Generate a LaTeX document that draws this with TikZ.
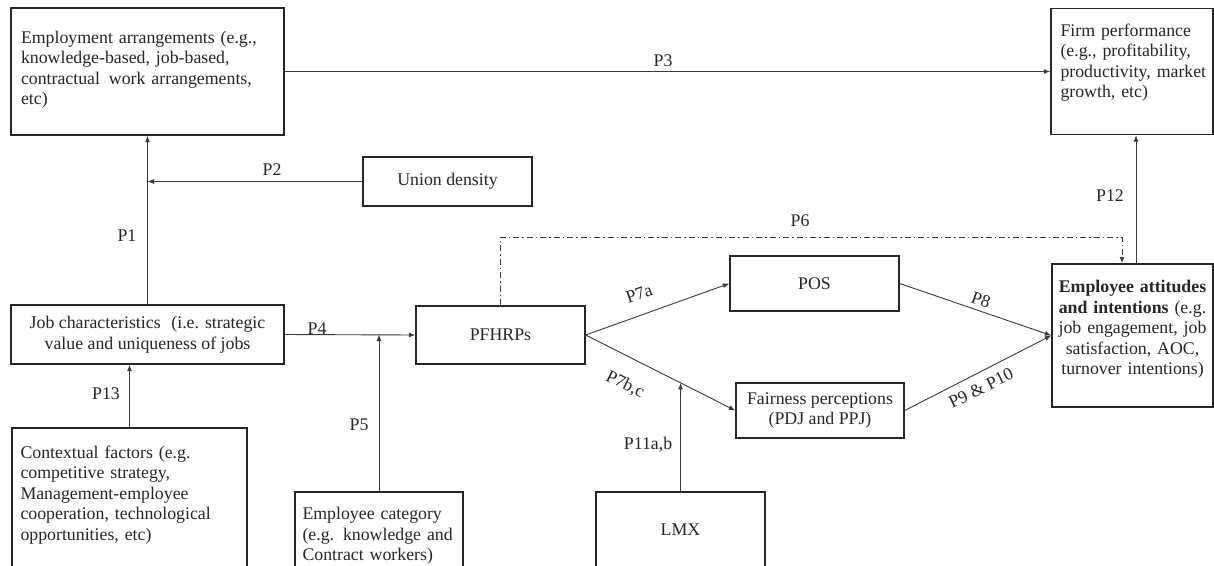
\documentclass[tikz,border=0pt]{standalone}
\usepackage{fontspec}
\setmainfont{Liberation Serif}
\usetikzlibrary{arrows.meta,calc}
\definecolor{ink}{RGB}{38,38,38}
\definecolor{wire}{RGB}{58,58,58}
\begin{document}
\begin{tikzpicture}[x=1pt,y=-1pt,
  txt/.style={font=\fontsize{17.8}{20.5}\selectfont, text=ink, inner sep=0pt},
  box/.style={draw=ink, line width=1.4pt, rectangle, inner sep=0pt, txt},
  link/.style={draw=wire, line width=0.9pt, -{Latex[length=6.5pt,width=5pt]}},
  dashlink/.style={link, dash pattern=on 6pt off 3pt on 1.5pt off 3pt},
  tag/.style={txt}]
\clip (0,0) rectangle (1214,565);
\fill[white] (0,0) rectangle (1214,565);

% boxes
\node[box, minimum width=273pt, minimum height=127pt] (emp) at (147.5,71.5) {};
\node[box, minimum width=162pt, minimum height=126pt] (firm) at (1132,71.5) {};
\node[box, minimum width=169pt, minimum height=49pt] (union) at (447.5,181.5) {Union density};
\node[box, minimum width=273pt, minimum height=59pt, align=center] (job) at (147.5,334.5)
  {Job characteristics\hspace{0.6em}(i.e. strategic\\value and uniqueness of jobs};
\node[box, minimum width=235pt, minimum height=150pt] (ctx) at (129.5,503) {};
\node[box, minimum width=168pt, minimum height=90pt] (cat) at (379,537) {};
\node[box, minimum width=169pt, minimum height=76pt] (lmx) at (680.5,530) {LMX};
\node[box, minimum width=169pt, minimum height=58pt] (pf) at (500.5,335) {PFHRPs};
\node[box, minimum width=169pt, minimum height=55pt] (pos) at (814.5,283.5) {POS};
\node[box, minimum width=168pt, minimum height=55pt, align=center] (fair) at (820,410.5)
  {Fairness perceptions\\(PDJ and PPJ)};
\node[box, minimum width=161pt, minimum height=143pt] (att) at (1132.5,335.5) {};

% box texts
\node[txt, align=left, text width=253pt] at ($(emp.center)+(0,-2)$)
  {Employment arrangements (e.g.,\\knowledge-based, job-based,\\contractual\hspace{0.5em}work arrangements,\\etc)};
\node[txt, align=left, text width=152pt, anchor=north west] at ($(firm.north west)+(10,15.5)$)
  {Firm performance\\(e.g., profitability,\\productivity, market\\growth, etc)};
\node[txt, align=left, text width=225pt, anchor=north west] at ($(ctx.north west)+(9,18)$)
  {Contextual factors (e.g.\\competitive strategy,\\Management-employee\\cooperation, technological\\opportunities, etc)};
\node[txt, align=left, text width=158pt, anchor=north west] at ($(cat.north west)+(8,16)$)
  {Employee category\\(e.g. knowledge and\\Contract workers)};
\node[txt, align=center, text width=158pt] at ($(att.center)+(0,-6)$)
  {\textbf{Employee attitudes}\\\textbf{and intentions} (e.g.\\job engagement, job\\satisfaction, AOC,\\turnover intentions)};

% connectors
\draw[link] (emp.east) -- (firm.west);
\draw[link] (job.north) -- (emp.south);
\draw[link] (union.west) -- (union.west -| emp.south);
\draw[link] (ctx.north) -- (ctx.north |- job.south);
\draw[link] (job.east) -- (pf.west);
\draw[link] (cat.north) -- (cat.north |- job.east);
\draw[link] (pf.east) -- (pos.west);
\draw[link] (pf.east) -- (fair.west);
\draw[link] (lmx.north) -- (intersection of lmx.north--lmx.center and pf.east--fair.west);
\draw[link] (pos.east) -- (att.west);
\draw[link] (fair.east) -- (att.west);
\draw[link] ($(att.north)+(3.5,0)$) -- ($(firm.south)+(4,0)$);
\coordinate (p6turn) at (1122,237);
\draw[dashlink] (pf.north) |- (p6turn) -- (p6turn |- att.north);

% path labels
\node[tag] at (663,61) {P3};
\node[tag] at (272,170) {P2};
\node[tag] at (127,236) {P1};
\node[tag] at (1110,196) {P12};
\node[tag] at (800,221) {P6};
\node[tag] at (317,329) {P4};
\node[tag] at (106,394) {P13};
\node[tag] at (359,425) {P5};
\node[tag, rotate=19] at (639,294) {P7a};
\node[tag, rotate=-26] at (625,385) {P7b,c};
\node[tag] at (648,445) {P11a,b};
\node[tag, rotate=-19] at (981,300) {P8};
\node[tag, rotate=26] at (981,388) {P9 \& P10};
\end{tikzpicture}
\end{document}
